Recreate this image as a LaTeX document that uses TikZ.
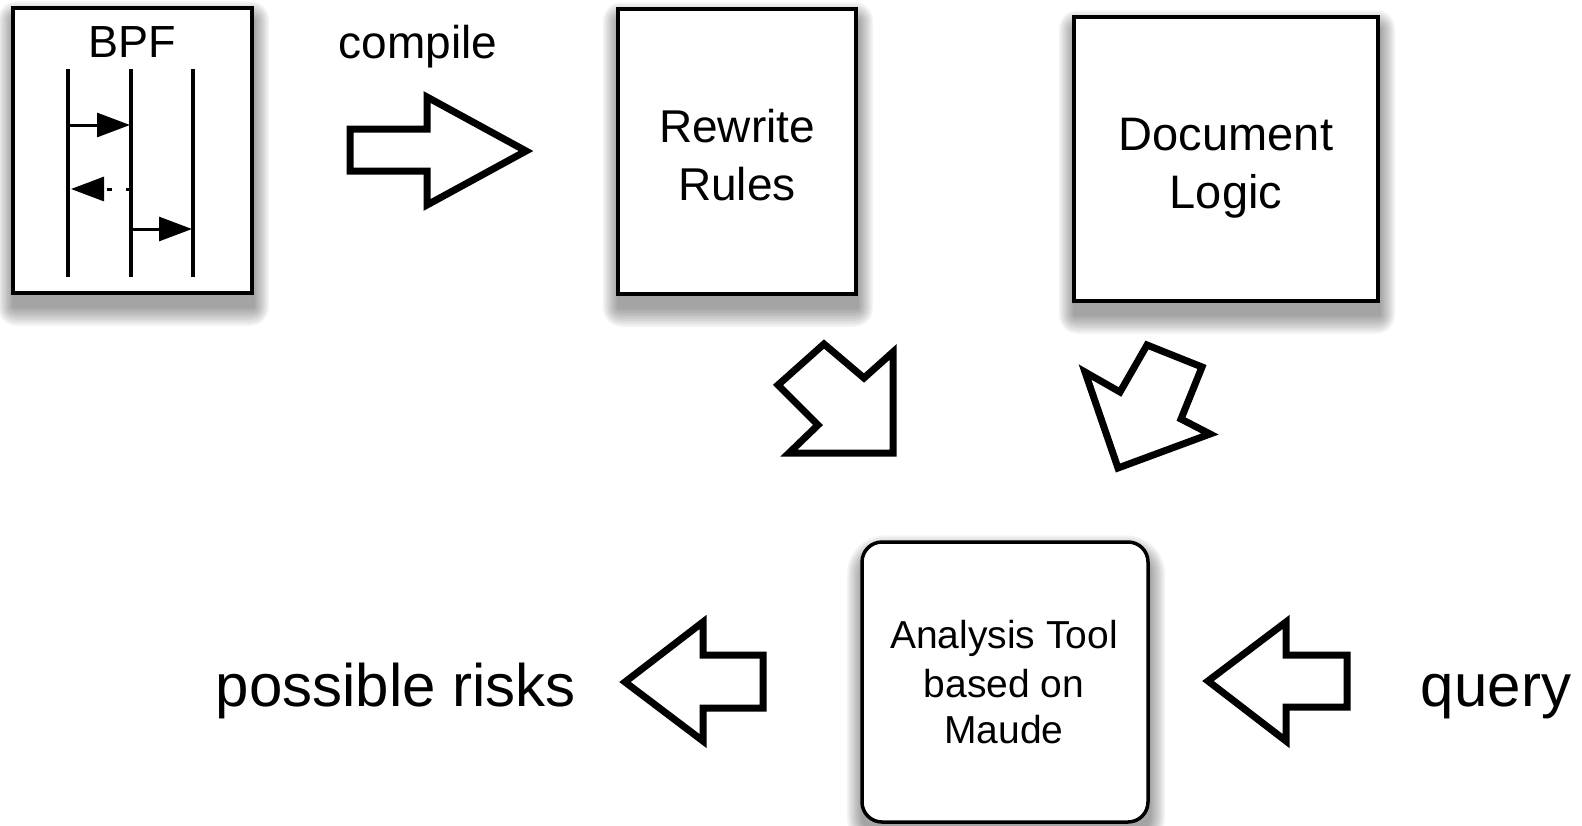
\documentclass[tikz,border=0pt]{standalone}
\usepackage{fontspec}
\setmainfont{Liberation Sans}
\usetikzlibrary{arrows.meta,backgrounds}
\begin{document}
\begin{tikzpicture}[x=1pt,y=-1pt,
  box/.style={draw=black, line width=3.5pt, fill=white, inner sep=0pt},
  blockarrow/.style={draw=black, line width=7pt, fill=white, line join=miter},
  lifeline/.style={line width=3.5pt},
  msg/.style={line width=3pt, -{Triangle[length=33pt,width=24pt]}},
  lbl/.style={anchor=base, inner sep=0pt, text=black}]
\useasboundingbox (0,0) rectangle (1582,825);

% boxes
\node[box, minimum width=239pt, minimum height=285pt] (bpf) at (132.5,150.5) {};
\node[box, minimum width=238pt, minimum height=285pt] (rr) at (737,151.5) {};
\node[box, minimum width=304pt, minimum height=284pt] (dl) at (1226,159) {};
\node[box, rounded corners=20pt, minimum width=286pt, minimum height=280pt] (at) at (1005,682) {};

% soft shadows
\begin{scope}[on background layer]
\foreach \n/\rc in {bpf/0,rr/0,dl/0,at/20}{
  \foreach \r in {0,2,...,18}{
    \pgfmathsetmacro{\rr}{\rc+\r+1}
    \fill[black, opacity=0.045, rounded corners=\rr pt]
      ([shift={(1-0.8*\r,13+\r)}]\n.south west) rectangle ([shift={(1+0.8*\r,13-\r)}]\n.north east);
  }
}
\end{scope}

% BPF content
\node[lbl, font=\fontsize{45}{54}\selectfont] (bpflbl) at (132,57) {BPF};
\coordinate (l1t) at (68,69);  \coordinate (l1b) at (68,277);
\coordinate (l2t) at (131,69); \coordinate (l2b) at (131,277);
\coordinate (l3t) at (193,69); \coordinate (l3b) at (193,277);
\draw[lifeline] (l1t) -- (l1b);
\draw[lifeline] (l2t) -- (l2b);
\draw[lifeline] (l3t) -- (l3b);
\coordinate (m1s) at (68,125);  \coordinate (m1e) at (130,125);
\coordinate (m2s) at (131,189); \coordinate (m2e) at (71,189);
\coordinate (m3s) at (131,229); \coordinate (m3e) at (192,229);
\draw[msg] (m1s) -- (m1e);
\draw[msg, dash pattern=on 5pt off 14pt] (m2s) -- (m2e);
\draw[msg] (m3s) -- (m3e);

% texts
\node[lbl, font=\fontsize{46}{55}\selectfont] (compile) at (418,58) {compile};
\node[lbl, font=\fontsize{46}{55}\selectfont] (rr1) at (737,142) {Rewrite};
\node[lbl, font=\fontsize{46}{55}\selectfont] (rr2) at (737,200) {Rules};
\node[lbl, font=\fontsize{47}{56}\selectfont] (dl1) at (1226,150) {Document};
\node[lbl, font=\fontsize{47}{56}\selectfont] (dl2) at (1226,208) {Logic};
\node[lbl, font=\fontsize{39}{47}\selectfont] (at1) at (1004,648) {Analysis Tool};
\node[lbl, font=\fontsize{39}{47}\selectfont] (at2) at (1004,697) {based on};
\node[lbl, font=\fontsize{39}{47}\selectfont] (at3) at (1004,743) {Maude};
\node[lbl, font=\fontsize{60}{72}\selectfont] (risks) at (396,706) {possible risks};
\node[lbl, font=\fontsize{60}{72}\selectfont] (query) at (1496,706) {query};

% block arrows
\draw[blockarrow] (350,129) -- (427,129) -- (427,97) -- (526,151) -- (427,205) -- (427,171) -- (350,171) -- cycle;
\draw[blockarrow] (778,385) -- (824,344) -- (864,378) -- (893,352) -- (893,453) -- (789,453) -- (818,425) -- cycle;
\draw[blockarrow] (1147,345) -- (1202,367) -- (1181,419) -- (1210,434) -- (1118,468) -- (1085,372) -- (1120,392) -- cycle;
\draw[blockarrow] (625,682) -- (703,622) -- (703,655) -- (763,655) -- (763,708) -- (703,708) -- (703,741) -- cycle;
\draw[blockarrow] (1208,681) -- (1286,622) -- (1286,655) -- (1347,655) -- (1347,707) -- (1286,707) -- (1286,741) -- cycle;
\end{tikzpicture}
\end{document}
